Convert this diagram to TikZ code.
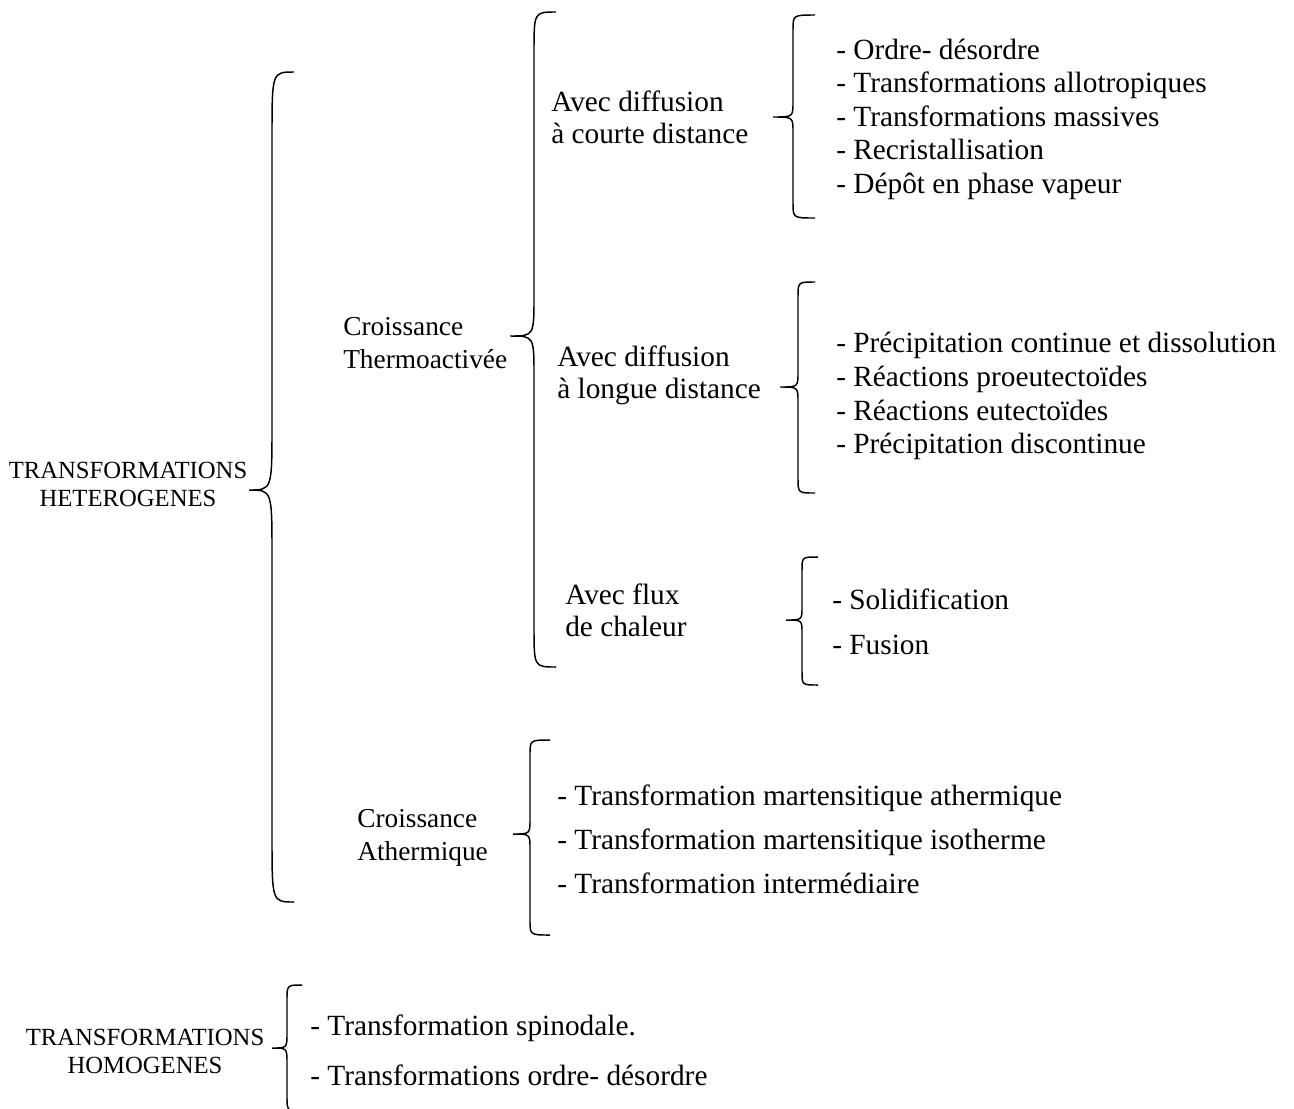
\documentclass[tikz,border=0pt]{standalone}
\usepackage{fontspec}
\setmainfont{Liberation Serif}
\begin{document}
\begin{tikzpicture}[x=0.75pt,y=-0.75pt]
    \tikzstyle{accol}= [black, line width=1.1pt]
    \tikzstyle{titre}= [inner sep=0pt, align=center, font=\fontsize{18.5}{21}\selectfont]
    \tikzstyle{etiq}= [inner sep=0pt, align=left, anchor=west, font=\fontsize{20.5}{24.75}\selectfont]
    \tikzstyle{sousetiq}= [etiq, font=\fontsize{22}{24}\selectfont]
    \tikzstyle{item}= [inner sep=0pt, anchor=base west, font=\fontsize{22}{25}\selectfont]
  % accolade: x bout, x trait, x pointe, y haut, y pointe, y bas, rayon
  \def\accolade#1#2#3#4#5#6#7{\draw[accol] (#1,#4) .. controls (#2,#4) .. (#2,#4+#7)
      -- (#2,#5-#7) .. controls (#2,#5) .. (#3,#5) .. controls (#2,#5) .. (#2,#5+#7)
      -- (#2,#6-#7) .. controls (#2,#6) .. (#1,#6);}
  \useasboundingbox (0,0) rectangle (1294,1108);

  \node[titre] (hetero) at (128,484) {TRANSFORMATIONS\\HETEROGENES};
  \node[titre] (homo) at (145,1051) {TRANSFORMATIONS\\HOMOGENES};

  \node[etiq] (thermo) at (343,343) {Croissance\\Thermoactivée};
  \node[etiq] (atherm) at (357,837.5) {Croissance\\Athermique};

  \node[sousetiq] (court) at (551,117) {Avec diffusion\\à courte distance};
  \node[sousetiq] (longue) at (557,375.5) {Avec diffusion\\à longue distance};
  \node[sousetiq] (flux) at (565,610) {Avec flux\\de chaleur};

  \accolade{294}{272}{249}{72}{490}{902}{65}
  \accolade{556}{534}{510}{12}{336}{667}{40}
  \accolade{815}{793}{773}{15}{117}{218}{15}
  \accolade{815}{798}{780}{282}{387}{493}{15}
  \accolade{818}{802}{786}{557}{620}{685}{13}
  \accolade{550}{530}{513}{740}{834}{935}{15}
  \accolade{302}{287}{272}{985}{1048}{1111}{15}

  \foreach \txt [count=\i] in {Ordre- désordre, Transformations allotropiques,
      Transformations massives, Recristallisation, Dépôt en phase vapeur}
    \node[item] (court\i) at (836,{25.5+33.5*\i}) {- \txt};

  \foreach \txt [count=\i] in {Précipitation continue et dissolution,
      Réactions proeutectoïdes, Réactions eutectoïdes, Précipitation discontinue}
    \node[item] (longue\i) at (836,{319+33.7*\i}) {- \txt};

  \foreach \txt [count=\i] in {Solidification, Fusion}
    \node[item] (flux\i) at (832,{564+45*\i}) {- \txt};

  \foreach \txt [count=\i] in {Transformation martensitique athermique,
      Transformation martensitique isotherme, Transformation intermédiaire}
    \node[item] (atherm\i) at (557,{761+44*\i}) {- \txt};

  \foreach \txt [count=\i] in {Transformation spinodale., Transformations ordre- désordre}
    \node[item] (homo\i) at (310,{985+50*\i}) {- \txt};

\end{tikzpicture}
\end{document}
